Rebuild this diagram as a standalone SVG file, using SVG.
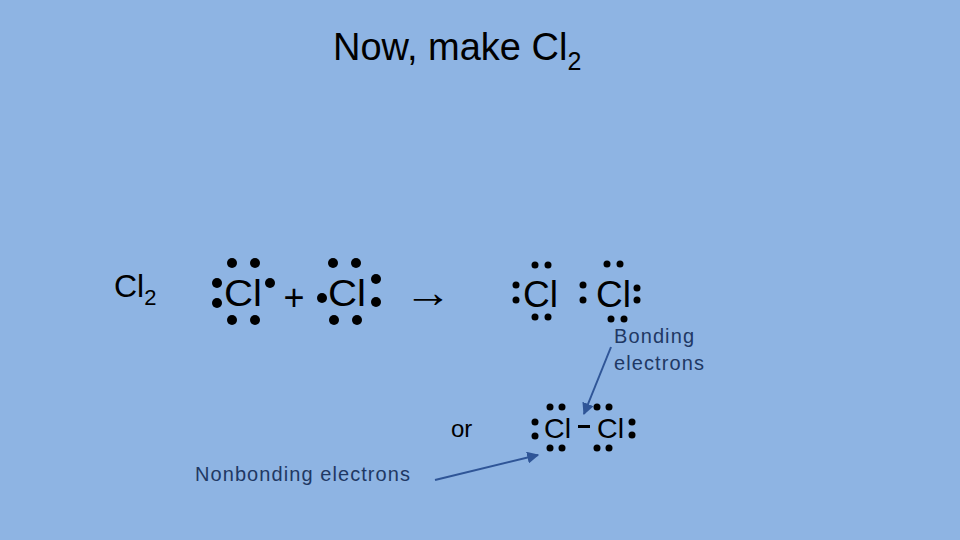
<svg xmlns="http://www.w3.org/2000/svg" width="960" height="540" viewBox="0 0 960 540">
<defs>
<style>
text{font-family:"Liberation Sans","DejaVu Sans",sans-serif;fill:#000}
.lbl{fill:#1f3864;font-size:20px}
.b circle{fill:#000}
</style>
<marker id="ah" viewBox="0 0 10 10" refX="9" refY="5" markerWidth="6" markerHeight="6" orient="auto"><path d="M0,0 L10,5 L0,10 z" fill="#2f5597"/></marker>
</defs>
<rect width="960" height="540" fill="#8eb4e3"/>
<g id="title"><text x="333" y="60" font-size="38">Now, make Cl<tspan font-size="25" dy="10">2</tspan></text></g>
<g id="cl2label"><text x="114" y="297" font-size="32">Cl<tspan font-size="22" dy="8">2</tspan></text></g>
<g id="atom1" class="b"><text x="224" y="306" font-size="36" textLength="38" lengthAdjust="spacingAndGlyphs">Cl</text>
<circle cx="232" cy="263" r="5"/><circle cx="255" cy="263" r="5"/><circle cx="217" cy="283" r="5"/><circle cx="217" cy="303" r="5"/><circle cx="270" cy="283" r="5"/><circle cx="232" cy="320" r="5"/><circle cx="255" cy="320" r="5"/></g>
<g id="plus"><text x="294" y="310" font-size="36" text-anchor="middle">+</text></g>
<g id="atom2" class="b"><text x="328" y="306" font-size="36" textLength="38" lengthAdjust="spacingAndGlyphs">Cl</text>
<circle cx="333" cy="263" r="5"/><circle cx="356" cy="263" r="5"/><circle cx="322" cy="298" r="5"/><circle cx="376" cy="279" r="5"/><circle cx="376" cy="302" r="5"/><circle cx="334" cy="320" r="5"/><circle cx="357" cy="320" r="5"/></g>
<g id="arrow"><text x="428" y="307" font-size="44" text-anchor="middle" textLength="48" lengthAdjust="spacingAndGlyphs">→</text></g>
<g id="atom3" class="b"><text x="523" y="307" font-size="36" textLength="35" lengthAdjust="spacingAndGlyphs">Cl</text>
<circle cx="535" cy="265" r="3.5"/><circle cx="548" cy="265" r="3.5"/><circle cx="516" cy="285" r="3.5"/><circle cx="516" cy="300" r="3.5"/><circle cx="535" cy="317" r="3.5"/><circle cx="548" cy="317" r="3.5"/></g>
<g id="atom4" class="b"><text x="596" y="307" font-size="36" textLength="35" lengthAdjust="spacingAndGlyphs">Cl</text>
<circle cx="583" cy="285" r="3.5"/><circle cx="583" cy="300" r="3.5"/><circle cx="607" cy="264" r="3.5"/><circle cx="620" cy="264" r="3.5"/><circle cx="637" cy="288" r="3.5"/><circle cx="637" cy="300" r="3.5"/><circle cx="611" cy="319" r="3.5"/><circle cx="624" cy="319" r="3.5"/></g>
<g id="bonding"><text class="lbl" x="614" y="343" textLength="80">Bonding</text><text class="lbl" x="614" y="370" textLength="90">electrons</text></g>
<g id="or"><text x="451" y="437" font-size="24">or</text></g>
<g id="molecule" class="b"><text x="544" y="438" font-size="28" textLength="27" lengthAdjust="spacingAndGlyphs">Cl</text><rect x="578" y="425" width="12" height="3"/><text x="597" y="438" font-size="28" textLength="27" lengthAdjust="spacingAndGlyphs">Cl</text>
<circle cx="550" cy="407" r="3.5"/><circle cx="562" cy="407" r="3.5"/><circle cx="535" cy="422" r="3.5"/><circle cx="535" cy="436" r="3.5"/><circle cx="550" cy="448" r="3.5"/><circle cx="562" cy="448" r="3.5"/>
<circle cx="597" cy="407" r="3.5"/><circle cx="609" cy="407" r="3.5"/><circle cx="632" cy="422" r="3.5"/><circle cx="632" cy="435" r="3.5"/><circle cx="597" cy="448" r="3.5"/><circle cx="609" cy="448" r="3.5"/></g>
<g id="nonbonding"><text class="lbl" x="195" y="481" textLength="215">Nonbonding electrons</text></g>
<g id="connectors" stroke="#2f5597" stroke-width="2" fill="none">
<line x1="611" y1="347" x2="584" y2="414" marker-end="url(#ah)"/>
<line x1="435" y1="480" x2="538" y2="455" marker-end="url(#ah)"/>
</g>
</svg>
